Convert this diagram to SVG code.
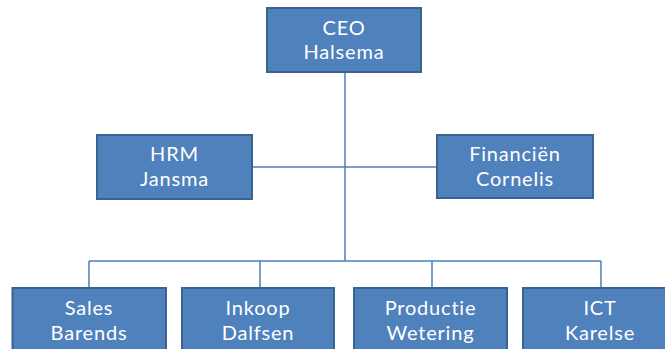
<svg xmlns="http://www.w3.org/2000/svg" width="665" height="349" viewBox="0 0 665 349">
<style>
.box{fill:#4F81BD;stroke:#3A6391;stroke-width:2}
.t{font-family:Lato,"Open Sans",sans-serif;font-size:20px;letter-spacing:0.8px;fill:#FFFFFF;text-anchor:middle}
.c{fill:none;stroke:#4A7EBB;stroke-width:1.5}
</style>
<rect width="665" height="349" fill="#FFFFFF"/>
<g id="connectors">
<path class="c" d="M345 72V261"/>
<path class="c" d="M252 167H437"/>
<path class="c" d="M89 261H601"/>
<path class="c" d="M89 261V288M260 261V288M432 261V288M601 261V288"/>
</g>
<g id="ceo">
<rect class="box" x="267" y="8" width="154" height="64"/>
<text class="t" x="344" y="34.5">CEO<tspan x="344" y="58.5">Halsema</tspan></text>
</g>
<g id="hrm">
<rect class="box" x="97" y="135" width="155" height="64"/>
<text class="t" x="174.5" y="161">HRM<tspan x="174.5" y="186">Jansma</tspan></text>
</g>
<g id="financien">
<rect class="box" x="437" y="135" width="156" height="63"/>
<text class="t" x="515" y="160.5">Financiën<tspan x="515" y="185.5">Cornelis</tspan></text>
</g>
<g id="sales">
<rect class="box" x="12.5" y="288" width="153.5" height="66"/>
<text class="t" x="89" y="315">Sales<tspan x="89" y="340">Barends</tspan></text>
</g>
<g id="inkoop">
<rect class="box" x="182" y="288" width="152" height="66"/>
<text class="t" x="258" y="315">Inkoop<tspan x="258" y="340">Dalfsen</tspan></text>
</g>
<g id="productie">
<rect class="box" x="354" y="288" width="153" height="66"/>
<text class="t" x="430.5" y="315">Productie<tspan x="430.5" y="340">Wetering</tspan></text>
</g>
<g id="ict">
<rect class="box" x="523" y="288" width="154" height="66"/>
<text class="t" x="600" y="315">ICT<tspan x="600" y="340">Karelse</tspan></text>
</g>
</svg>
